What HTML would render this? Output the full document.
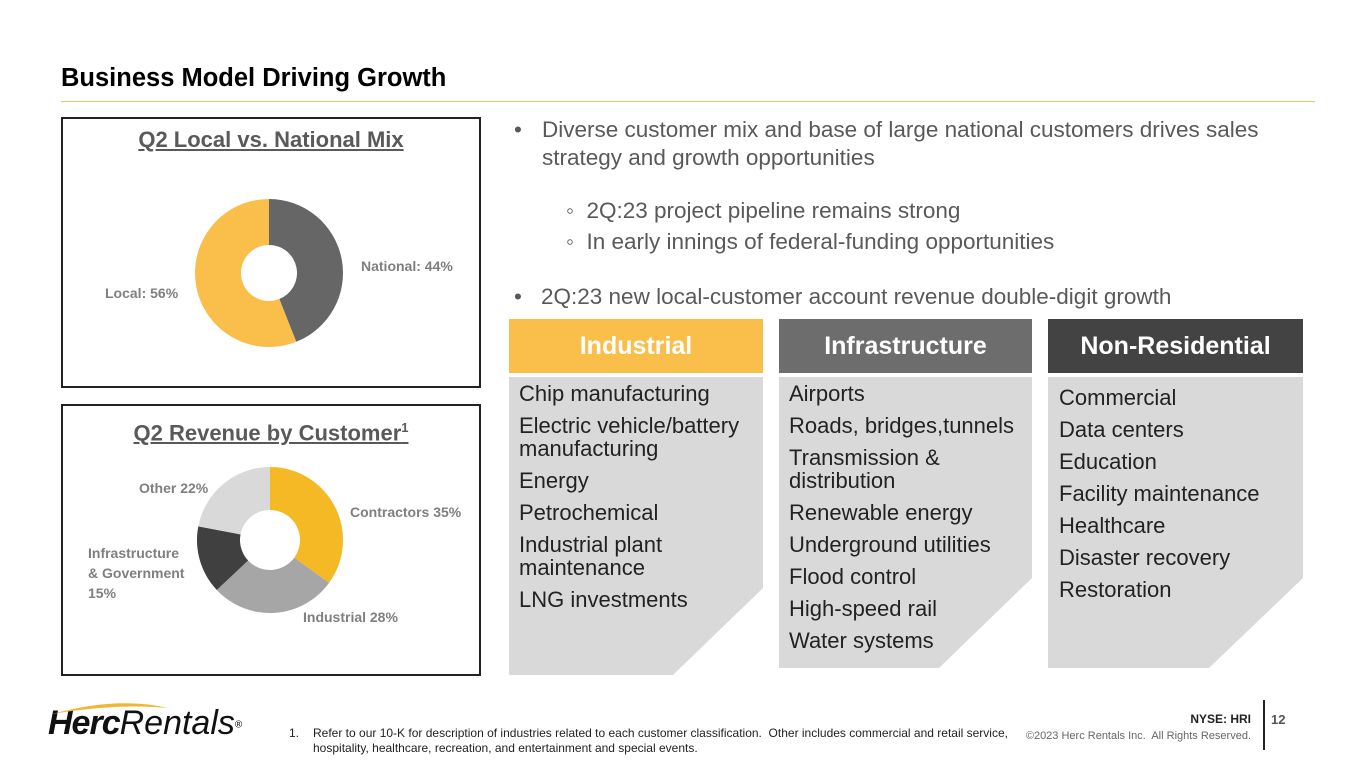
<!DOCTYPE html>
<html><head><meta charset="utf-8"><style>
body{margin:0;width:1365px;height:769px;background:#fff;font-family:"Liberation Sans",sans-serif;position:relative;overflow:hidden}
.a{position:absolute}
.title{left:61px;top:64px;font-size:25.5px;font-weight:bold;color:#000}
.rule{left:61px;top:101px;width:1254px;height:1px;background:#f2c25a}
.box{border:2px solid #222;box-sizing:border-box}
.ptitle{font-size:22px;font-weight:bold;color:#595959;text-decoration:underline;width:100%;text-align:center}
.lbl{font-size:14px;font-weight:bold;color:#7f7f7f;line-height:20px}
.bul{font-size:22.5px;color:#595959}
.hdr{top:319px;height:54px;color:#fff;font-size:25px;font-weight:bold;text-align:center;line-height:54px}
.body{background:#d9d9d9}
.items{font-size:22px;color:#222;line-height:23px}
.items div{margin-bottom:9px}
</style></head><body>
<div class="a title">Business Model Driving Growth</div>
<div class="a rule"></div>

<div class="a box" style="left:61px;top:117px;width:420px;height:271px">
<div class="a ptitle" style="top:8px">Q2 Local vs. National Mix</div>
</div>
<div class="a box" style="left:61px;top:404px;width:420px;height:272px">
<div class="a ptitle" style="top:14px">Q2 Revenue by Customer<sup style="font-size:13px">1</sup></div>
</div>

<svg class="a" style="left:0;top:0" width="1365" height="769" id="charts"></svg>

<div class="a lbl" style="left:361px;top:256px">National: 44%</div>
<div class="a lbl" style="left:105px;top:283px">Local: 56%</div>
<div class="a lbl" style="left:350px;top:502px">Contractors 35%</div>
<div class="a lbl" style="left:303px;top:607px">Industrial 28%</div>
<div class="a lbl" style="left:88px;top:543px">Infrastructure<br>&amp; Government<br>15%</div>
<div class="a lbl" style="left:139px;top:478px">Other 22%</div>

<div class="a bul" style="left:514px;top:116px;line-height:28px;width:800px"><span style="position:absolute;left:0">•</span><div style="margin-left:28px">Diverse customer mix and base of large national customers drives sales strategy and growth opportunities</div></div>
<div class="a bul" style="left:566px;top:198px">◦&nbsp;&nbsp;2Q:23 project pipeline remains strong</div>
<div class="a bul" style="left:566px;top:229px">◦&nbsp;&nbsp;In early innings of federal-funding opportunities</div>
<div class="a bul" style="left:514px;top:284px"><span style="position:absolute;left:0">•</span><span style="margin-left:27px">2Q:23 new local-customer account revenue double-digit growth</span></div>

<div class="a hdr" style="left:509px;width:254px;background:#f9bf4a">Industrial</div>
<div class="a hdr" style="left:779px;width:253px;background:#6d6d6d">Infrastructure</div>
<div class="a hdr" style="left:1048px;width:255px;background:#434343">Non-Residential</div>

<div class="a body" style="left:509px;top:377px;width:254px;height:298px;clip-path:polygon(0 0,100% 0,100% 211px,164px 100%,0 100%)"></div>
<div class="a body" style="left:779px;top:377px;width:253px;height:291px;clip-path:polygon(0 0,100% 0,100% 201px,160px 100%,0 100%)"></div>
<div class="a body" style="left:1048px;top:377px;width:255px;height:291px;clip-path:polygon(0 0,100% 0,100% 201px,161px 100%,0 100%)"></div>

<div class="a items" style="left:519px;top:382px;width:240px">
<div>Chip manufacturing</div><div>Electric vehicle/battery manufacturing</div><div>Energy</div><div>Petrochemical</div><div>Industrial plant maintenance</div><div>LNG investments</div></div>
<div class="a items" style="left:789px;top:382px;width:240px">
<div>Airports</div><div>Roads, bridges,tunnels</div><div>Transmission &amp; distribution</div><div>Renewable energy</div><div>Underground utilities</div><div>Flood control</div><div>High-speed rail</div><div>Water systems</div></div>
<div class="a items" style="left:1059px;top:386px;width:240px">
<div>Commercial</div><div>Data centers</div><div>Education</div><div>Facility maintenance</div><div>Healthcare</div><div>Disaster recovery</div><div>Restoration</div></div>

<div class="a" style="left:48px;top:704px;white-space:nowrap">
<svg width="200" height="16" class="a" style="left:0;top:-4px"><path d="M4 14 Q70 -4 120 8 Q70 3 4 14Z" fill="#f2b632"/></svg>
<span style="font-size:34px;font-style:italic;font-weight:bold;color:#111;letter-spacing:-1px">Herc</span><span style="font-size:34px;font-style:italic;color:#111">Rentals</span><sup style="font-size:10px">®</sup></div>
<div class="a" style="left:289px;top:726px;font-size:12px;color:#222;line-height:15px;width:720px"><span style="position:absolute;left:0">1.</span><div style="margin-left:24px">Refer to our 10-K for description of industries related to each customer classification.&nbsp; Other includes commercial and retail service, hospitality, healthcare, recreation, and entertainment and special events.</div></div>
<div class="a" style="left:1150px;top:712px;font-size:12px;font-weight:bold;color:#222;width:101px;text-align:right">NYSE: HRI</div>
<div class="a" style="left:1000px;top:730px;font-size:11px;color:#666;width:251px;text-align:right">©2023 Herc Rentals Inc.&nbsp; All Rights Reserved.</div>
<div class="a" style="left:1263px;top:700px;width:2px;height:50px;background:#222"></div>
<div class="a" style="left:1271px;top:712px;font-size:13px;font-weight:bold;color:#555">12</div>

<script>
const mixCategories=["National","Local"];
const mixValues=[44,56];
const mixColors=["#666666","#f9bf4a"];
const custCategories=["Contractors","Industrial","Infrastructure & Government","Other"];
const custValues=[35,28,15,22];
const custColors=["#f4b925","#a6a6a6","#404040","#d9d9d9"];
const svg=document.getElementById('charts');
function donut(cx,cy,ro,ri,vals,cols,names,prefix){
  const tot=vals.reduce((a,b)=>a+b,0);let a0=-Math.PI/2;
  vals.forEach((v,i)=>{
    const a1=a0+v/tot*2*Math.PI,l=(a1-a0)>Math.PI?1:0;
    const p=(r,a)=>[cx+r*Math.cos(a),cy+r*Math.sin(a)];
    const [x0,y0]=p(ro,a0),[x1,y1]=p(ro,a1),[x2,y2]=p(ri,a1),[x3,y3]=p(ri,a0);
    const el=document.createElementNS('http://www.w3.org/2000/svg','path');
    el.setAttribute('d',`M${x0} ${y0}A${ro} ${ro} 0 ${l} 1 ${x1} ${y1}L${x2} ${y2}A${ri} ${ri} 0 ${l} 0 ${x3} ${y3}Z`);
    el.setAttribute('fill',cols[i]);
    
    
    svg.appendChild(el);a0=a1;
  });
}
donut(269,273,74,28,mixValues,mixColors,mixCategories,'mix');
donut(270,540,73,30,custValues,custColors,custCategories,'customer');
</script>
</body></html>
